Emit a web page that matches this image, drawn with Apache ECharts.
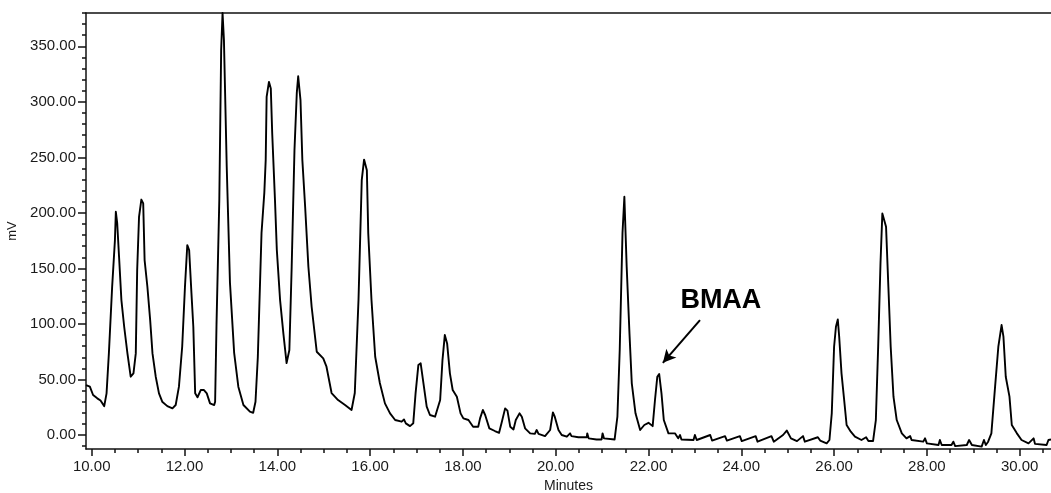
<!DOCTYPE html>
<html>
<head>
<meta charset="utf-8">
<script src="https://cdn.jsdelivr.net/npm/echarts@6/dist/echarts.min.js"></script>
<style>
  html, body { margin: 0; padding: 0; background: #fff; }
  #cn { width: 1051px; height: 493px; }
</style>
</head>
<body>
<div id="cn"></div>
<script>
'use strict';

// retention time (min) and detector signal (mV)
const minutes = [
    9.877, 9.96, 10.03, 10.12, 10.19, 10.27, 10.32, 10.37, 10.44, 10.50, 10.52, 10.55, 10.59, 10.64, 10.70, 10.77, 10.84, 10.90, 10.95, 10.98,
    11.02, 11.07, 11.11, 11.14, 11.20, 11.26, 11.31, 11.38, 11.45, 11.52, 11.63, 11.74, 11.81, 11.88, 11.95, 12.01, 12.06, 12.10, 12.15, 12.19,
    12.23, 12.28, 12.35, 12.42, 12.48, 12.55, 12.64, 12.66, 12.69, 12.75, 12.79, 12.82, 12.85, 12.91, 12.98, 13.07, 13.16, 13.27, 13.41, 13.48,
    13.53, 13.58, 13.63, 13.66, 13.72, 13.75, 13.77, 13.82, 13.86, 13.89, 13.95, 13.99, 14.06, 14.13, 14.20, 14.26, 14.31, 14.37, 14.42, 14.45,
    14.50, 14.54, 14.60, 14.67, 14.74, 14.85, 14.99, 15.06, 15.17, 15.31, 15.46, 15.60, 15.67, 15.75, 15.82, 15.87, 15.93, 15.96, 16.03, 16.11,
    16.21, 16.32, 16.43, 16.54, 16.68, 16.73, 16.77, 16.86, 16.93, 16.98, 17.04, 17.09, 17.15, 17.22, 17.29, 17.40, 17.44, 17.51, 17.56, 17.61,
    17.66, 17.72, 17.78, 17.87, 17.95, 18.01, 18.12, 18.22, 18.33, 18.37, 18.43, 18.48, 18.57, 18.69, 18.78, 18.84, 18.91, 18.96, 19.02, 19.09,
    19.14, 19.22, 19.27, 19.34, 19.45, 19.55, 19.59, 19.63, 19.77, 19.88, 19.94, 19.98, 20.06, 20.13, 20.24, 20.31, 20.34, 20.49, 20.67, 20.68,
    20.71, 20.88, 20.99, 21.01, 21.04, 21.27, 21.33, 21.38, 21.44, 21.48, 21.53, 21.59, 21.64, 21.72, 21.82, 21.91, 22.00, 22.09, 22.14, 22.19,
    22.23, 22.28, 22.33, 22.43, 22.57, 22.64, 22.68, 22.71, 22.97, 23.00, 23.04, 23.33, 23.37, 23.65, 23.69, 23.97, 24.01, 24.31, 24.35, 24.65,
    24.70, 24.90, 24.98, 25.07, 25.20, 25.33, 25.37, 25.65, 25.70, 25.84, 25.90, 25.95, 26.00, 26.04, 26.08, 26.11, 26.16, 26.21, 26.27, 26.36,
    26.45, 26.59, 26.69, 26.74, 26.84, 26.90, 26.95, 27.00, 27.04, 27.08, 27.12, 27.17, 27.22, 27.28, 27.35, 27.46, 27.56, 27.64, 27.67, 27.92,
    27.96, 28.00, 28.25, 28.28, 28.32, 28.53, 28.57, 28.61, 28.86, 28.91, 28.97, 29.18, 29.23, 29.27, 29.32, 29.39, 29.47, 29.54, 29.61, 29.65,
    29.70, 29.78, 29.83, 29.94, 30.04, 30.19, 30.30, 30.33, 30.58, 30.62, 30.675
];

const signal = [
    45, 43.5, 36, 33, 31, 26, 37.5, 73.5, 133, 175, 201, 190.5, 160, 121.5, 97.5, 73.5, 52.5, 55.5, 73.5, 148.5,
    196.5, 212, 208.5, 157.5, 133.5, 103.5, 73.5, 52.5, 37.5, 30, 26, 24, 27, 43.5, 79.5, 133.5, 171, 166.5, 127.5, 97.5,
    37.5, 34, 40.5, 40.5, 37.5, 28.5, 27, 30, 100, 211.5, 346.5, 380, 355.5, 241.5, 137, 74, 43.5, 27, 21, 20,
    30, 70, 140, 182, 218, 247.5, 304.5, 318, 312, 272, 211.5, 166.5, 121.5, 91.8, 64.8, 76.5, 151.5, 256.5, 308, 323,
    301.5, 247.5, 205.5, 151.5, 115.5, 75, 69, 61.5, 37.8, 31.5, 27, 22.5, 37.8, 121.5, 229.5, 248, 238.5, 181.8, 121.5, 70.5,
    46.8, 28.5, 19.5, 13.5, 12, 14, 10.5, 8, 10.5, 37.5, 63, 64.5, 46.5, 25.5, 18, 16.5, 15, 31.5, 67.5, 90,
    82.5, 55.5, 40.5, 34.5, 19.5, 15, 13.5, 7.5, 7.5, 15, 22.5, 18, 6, 3.6, 2, 12, 24, 22, 7.5, 5,
    13.5, 19.5, 16.5, 6, 1.5, 1, 4.5, 1, -1, 4.5, 20.4, 16.5, 4.5, 0, -1.5, 1.5, -1, -2, -2, 1.5,
    -3, -4, -4, 1.5, -3, -4, 16.5, 76.5, 182, 214.5, 151.5, 91.5, 46.5, 19.5, 4.5, 9, 11, 8, 31.5, 52.5,
    55, 37.5, 13.5, 1.5, 1.5, -3, 0, -4, -4.5, 0, -4.5, 0, -5, -1, -5, -1, -5.5, -1, -6, -1,
    -6, 0, 4, -3, -5.5, -1, -6, -2, -5, -7.5, -4.5, 19.5, 79.5, 97.5, 104, 88.5, 55.5, 34.5, 9, 3,
    -1.5, -4.5, -2, -5.4, -5.4, 13.5, 79.5, 154.5, 199.5, 201, 187.5, 133.5, 79.5, 34.5, 13.5, 1.5, -3, -1, -4.5, -6,
    -3, -7.5, -9, -4.5, -9, -9, -6, -10, -9, -4.5, -9, -10.5, -4.5, -9, -6, 1.5, 43.5, 79.5, 99, 88.5,
    52.5, 34.5, 9, 1.5, -4.5, -7.5, -3, -8, -9, -4.5, -4
];

const majorMinutes = [10, 12, 14, 16, 18, 20, 22, 24, 26, 28, 30];
const minorMinutes = [];
for (let t = 10; t <= 30.5; t += 0.5) minorMinutes.push(t);
const majorMV = [0, 50, 100, 150, 200, 250, 300, 350];
const minorMV = [];
for (let v = -10; v <= 380; v += 10) minorMV.push(v);

// BMAA annotation (minutes, mV)
const bmaaLabel = [23.56, 121];
const bmaaArrowFrom = [23.11, 103.5];
const bmaaArrowTo = [22.31, 65];

const X_MIN = 9.877, X_MAX = 30.675;
const Y_MIN = -12.6, Y_MAX = 380;

const FONT = 'Liberation Sans, Arial, sans-serif';
const INK = '#111';

const chart = echarts.init(document.getElementById('cn'), null, { renderer: 'canvas' });

const lineStyleAxis = { color: INK, width: 1.5 };

const option = {
    animation: false,
    backgroundColor: '#fff',
    grid: {
        left: 86,
        right: 0,
        top: 13,
        bottom: 44,
        containLabel: false,
        outerBoundsMode: 'none'
    },
    xAxis: [{
            type: 'value',
            min: X_MIN,
            max: X_MAX,
            position: 'bottom',
            axisLine: { show: true, onZero: false, lineStyle: lineStyleAxis },
            axisTick: { show: true, customValues: majorMinutes, length: 7, lineStyle: lineStyleAxis },
            axisLabel: {
                customValues: majorMinutes,
                formatter: v => v.toFixed(2),
                fontSize: 15,
                fontFamily: FONT,
                color: '#1a1a1a',
                margin: 10
            },
            splitLine: { show: false },
            name: 'Minutes',
            nameLocation: 'middle',
            nameGap: 29,
            nameTextStyle: { fontSize: 14, fontFamily: FONT, color: '#1a1a1a' }
        },
        {
            type: 'value',
            min: X_MIN,
            max: X_MAX,
            position: 'bottom',
            axisLine: { show: false, onZero: false },
            axisTick: { show: true, customValues: minorMinutes, length: 4, lineStyle: lineStyleAxis },
            axisLabel: { show: false },
            splitLine: { show: false }
        },
        {
            type: 'value',
            min: X_MIN,
            max: X_MAX,
            position: 'top',
            axisLine: { show: true, onZero: false, lineStyle: lineStyleAxis },
            axisTick: { show: false },
            axisLabel: { show: false },
            splitLine: { show: false }
        }
    ],
    yAxis: [{
            type: 'value',
            min: Y_MIN,
            max: Y_MAX,
            position: 'left',
            axisLine: { show: true, onZero: false, lineStyle: lineStyleAxis },
            axisTick: { show: true, customValues: majorMV, length: 8, lineStyle: lineStyleAxis },
            axisLabel: {
                customValues: majorMV,
                formatter: v => v.toFixed(2),
                fontSize: 15,
                fontFamily: FONT,
                color: '#1a1a1a',
                margin: 10
            },
            splitLine: { show: false },
            name: 'mV',
            nameLocation: 'middle',
            nameGap: 61,
            nameTextStyle: { fontSize: 13, fontFamily: FONT, color: '#1a1a1a' }
        },
        {
            type: 'value',
            min: Y_MIN,
            max: Y_MAX,
            position: 'left',
            axisLine: { show: false, onZero: false },
            axisTick: { show: true, customValues: minorMV, length: 4, lineStyle: lineStyleAxis },
            axisLabel: { show: false },
            splitLine: { show: false }
        }
    ],
    series: [{
        type: 'line',
        xAxisIndex: 0,
        yAxisIndex: 0,
        data: minutes.map((t, i) => [t, signal[i]]),
        symbol: 'none',
        showSymbol: false,
        lineStyle: { color: '#000', width: 1.9, join: 'round' },
        markLine: {
            silent: true,
            symbol: ['none', 'arrow'],
            symbolSize: [10, 13],
            lineStyle: { color: '#000', width: 2, type: 'solid' },
            label: { show: false },
            data: [
                [{ coord: bmaaArrowFrom }, { coord: bmaaArrowTo }]
            ]
        },
        markPoint: {
            silent: true,
            symbol: 'circle',
            symbolSize: 1,
            itemStyle: { color: 'rgba(0,0,0,0)' },
            label: {
                show: true,
                position: 'inside',
                formatter: 'BMAA',
                fontSize: 27,
                fontWeight: 'bold',
                fontFamily: FONT,
                color: '#000'
            },
            data: [{ coord: bmaaLabel }]
        }
    }]
};

chart.setOption(option);
</script>
</body>
</html>
